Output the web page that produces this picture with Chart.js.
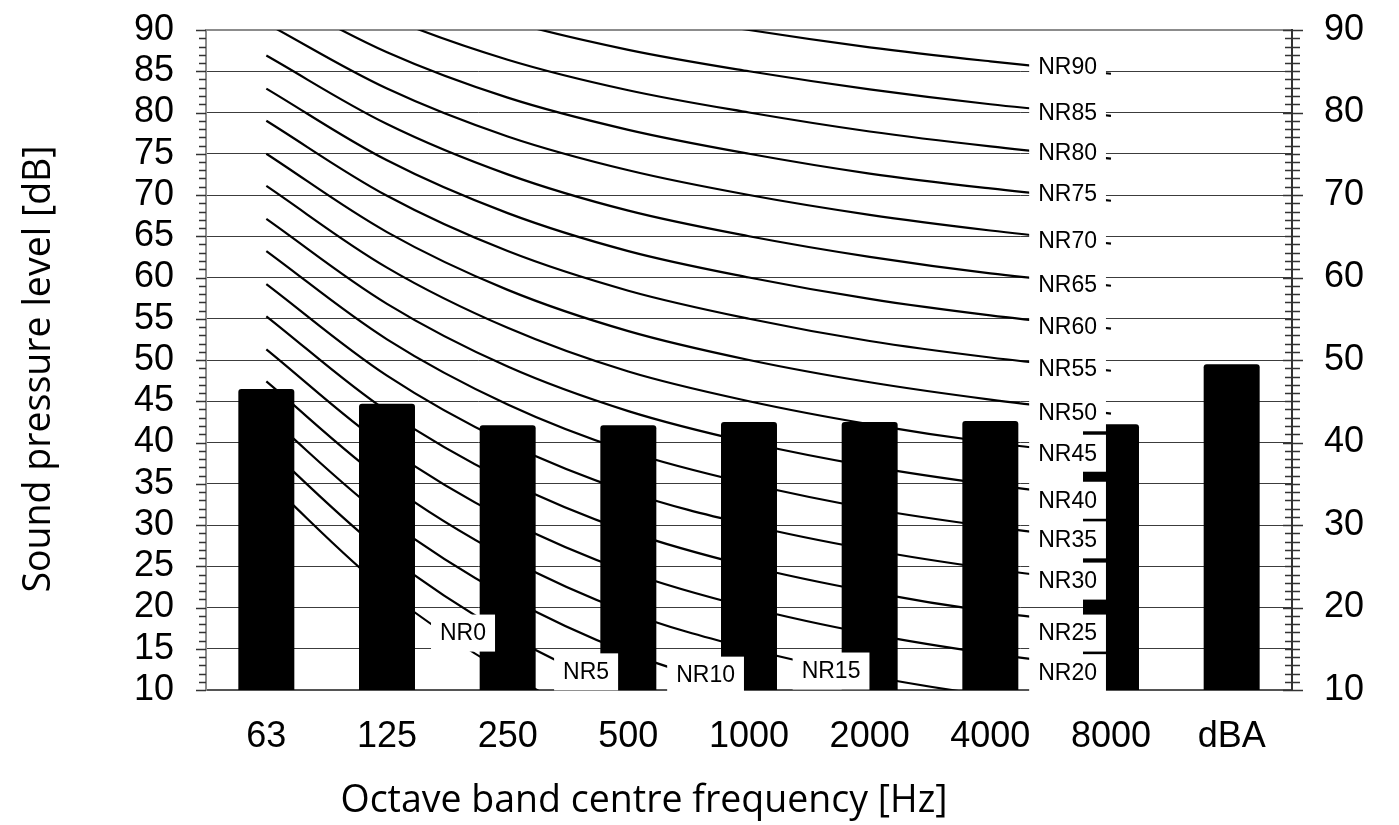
<!DOCTYPE html>
<html>
<head>
<meta charset="utf-8">
<title>Noise rating curves</title>
<script src="https://cdn.jsdelivr.net/npm/chart.js@4.4.1/dist/chart.umd.min.js"></script>
<style>
  html, body { margin: 0; padding: 0; background: #fff; }
  #wrap { width: 1399px; height: 825px; }
</style>
</head>
<body>
<div id="wrap"><canvas id="nrChart" width="1399" height="825"></canvas></div>
<script>
// Octave bands plus the overall A-weighted level
const bandLabels = ['63', '125', '250', '500', '1000', '2000', '4000', '8000', 'dBA'];

// Measured sound pressure levels [dB]
const measuredLevels = [46.5, 44.7, 42.1, 42.1, 42.5, 42.5, 42.6, 42.2, 49.5];

// NR curves, values at 63 ... 8000 Hz
const nrLevels = [0, 5, 10, 15, 20, 25, 30, 35, 40, 45, 50, 55, 60, 65, 70, 75, 80, 85, 90];
const nrCurves = [
  [35.5, 22.0, 12.0, 4.8, 0, -3.5, -6.1, -8.0],     // NR0
  [39.5, 26.4, 16.7, 9.7, 5, 1.6, -1.0, -2.9],      // NR5
  [43.4, 30.7, 21.3, 14.5, 10, 6.7, 4.2, 2.3],      // NR10
  [47.4, 35.1, 26.0, 19.4, 15, 11.7, 9.3, 7.5],     // NR15
  [51.3, 39.4, 30.6, 24.3, 20, 16.8, 14.4, 12.6],   // NR20
  [55.3, 43.8, 35.3, 29.2, 25, 21.9, 19.5, 17.8],   // NR25
  [59.2, 48.1, 39.9, 34.0, 30, 27.0, 24.7, 22.9],   // NR30
  [63.2, 52.5, 44.6, 38.9, 35, 32.0, 29.8, 28.1],   // NR35
  [67.1, 56.8, 49.2, 43.8, 40, 37.1, 34.9, 33.2],   // NR40
  [71.1, 61.2, 53.9, 48.6, 45, 42.2, 40.0, 38.4],   // NR45
  [75.0, 65.5, 58.5, 53.5, 50, 47.3, 45.2, 43.5],   // NR50
  [79.0, 69.9, 63.2, 58.4, 55, 52.3, 50.3, 48.7],   // NR55
  [82.9, 74.2, 67.8, 63.2, 60, 57.4, 55.4, 53.8],   // NR60
  [86.9, 78.6, 72.5, 68.1, 65, 62.5, 60.5, 59.0],   // NR65
  [90.8, 82.9, 77.1, 73.0, 70, 67.6, 65.7, 64.1],   // NR70
  [94.8, 87.3, 81.8, 77.9, 75, 72.6, 70.8, 69.3],   // NR75
  [98.7, 91.6, 86.4, 82.7, 80, 77.7, 75.9, 74.4],   // NR80
  [102.7, 96.0, 91.1, 87.6, 85, 82.8, 81.0, 79.6],  // NR85
  [106.6, 100.3, 95.7, 92.5, 90, 87.9, 86.2, 84.7]  // NR90
];

// Tick labels
const leftTicks = [10, 15, 20, 25, 30, 35, 40, 45, 50, 55, 60, 65, 70, 75, 80, 85, 90];
const rightTicks = [10, 20, 30, 40, 50, 60, 70, 80, 90];

// Where each NR label box sits: [category position, dB]
const nrLabelSpots = [
  [1.63, 16.9], [2.65, 12.2], [3.64, 11.8], [4.68, 12.3],
  [6.64, 12.1], [6.64, 16.9], [6.64, 23.2], [6.64, 28.2], [6.64, 33.0],
  [6.64, 38.7], [6.64, 43.6], [6.64, 49.0], [6.64, 54.1], [6.64, 59.1],
  [6.64, 64.5], [6.64, 70.2], [6.64, 75.1], [6.64, 80.0], [6.64, 85.6]
];

const tickFont = { family: '"Liberation Sans", Arial, sans-serif', size: 36 };
const titleFont = '37.5px "Open Sans", sans-serif';

// NR labels on top of the bars, minor ticks and axis titles
const nrExtras = {
  id: 'nrExtras',
  afterDatasetsDraw(chart) {
    const ctx = chart.ctx;
    const xs = chart.scales.x, ys = chart.scales.y;
    ctx.save();
    ctx.font = '23px "Liberation Sans", Arial, sans-serif';
    ctx.textAlign = 'center';
    ctx.textBaseline = 'middle';
    nrLevels.forEach((nr, i) => {
      const txt = 'NR' + nr;
      const px = xs.getPixelForValue(nrLabelSpots[i][0]);
      const py = ys.getPixelForValue(nrLabelSpots[i][1]);
      const w = ctx.measureText(txt).width + 18;
      ctx.fillStyle = '#fff';
      ctx.fillRect(px - w / 2, py - 18.5, w, 37);
      ctx.fillStyle = '#000';
      ctx.fillText(txt, px, py + 1);
    });
    ctx.restore();
  },
  afterDraw(chart) {
    const ctx = chart.ctx;
    const ys = chart.scales.y;
    const ca = chart.chartArea;
    ctx.save();
    ctx.strokeStyle = '#333';
    ctx.lineWidth = 1.5;
    ctx.beginPath();
    for (let v = 10; v <= 90; v++) {
      const py = Math.round(ys.getPixelForValue(v)) + 0.5;
      ctx.moveTo(ca.left - (v % 5 === 0 ? 10 : 7), py);
      ctx.lineTo(ca.left, py);
      ctx.moveTo(ca.right - (v % 10 === 0 ? 9 : 7), py);
      ctx.lineTo(ca.right + (v % 10 === 0 ? 11 : 8), py);
    }
    ctx.stroke();

    ctx.fillStyle = '#000';
    ctx.font = titleFont;
    ctx.textAlign = 'center';
    ctx.textBaseline = 'alphabetic';
    ctx.fillText('Octave band centre frequency [Hz]', 644, 812);
    ctx.translate(50, 369);
    ctx.rotate(-Math.PI / 2);
    ctx.fillText('Sound pressure level [dB]', 0, 0);
    ctx.restore();
  }
};

const lineSets = nrCurves.map((vals, i) => ({
  type: 'line',
  label: 'NR' + nrLevels[i],
  data: vals,
  borderColor: '#000',
  borderWidth: 2.2,
  pointRadius: 0,
  tension: 0.35,
  fill: false,
  yAxisID: 'y',
  order: 2
}));

// fixed axis sizes so the plot area lands where the original has it
function fixWidth(w) {
  return s => { s.width = w; s.paddingTop = 0; s.paddingBottom = 0; };
}

const ctx = document.getElementById('nrChart').getContext('2d');
const nrChart = new Chart(ctx, {
  type: 'bar',
  data: {
    labels: bandLabels,
    datasets: [{
      label: 'Measured',
      data: measuredLevels,
      backgroundColor: '#000',
      borderWidth: 0,
      borderRadius: { topLeft: 3, topRight: 3 },
      borderSkipped: 'bottom',
      categoryPercentage: 1,
      barPercentage: 0.464,
      yAxisID: 'y',
      order: 1
    }, ...lineSets]
  },
  options: {
    responsive: false,
    devicePixelRatio: 1,
    animation: false,
    events: [],
    layout: { padding: { top: 30, left: 0, right: 0, bottom: 0 } },
    plugins: {
      legend: { display: false },
      tooltip: { enabled: false }
    },
    scales: {
      x: {
        afterFit(s) { s.height = 135; s.paddingLeft = 0; s.paddingRight = 0; },
        grid: { display: false, drawTicks: false },
        border: { display: true, color: '#555', width: 2 },
        ticks: { color: '#000', font: tickFont, padding: 25, autoSkip: false, maxRotation: 0 }
      },
      y: {
        min: 10,
        max: 90,
        afterFit: fixWidth(206),
        afterBuildTicks(s) { s.ticks = leftTicks.map(v => ({ value: v })); },
        grid: {
          color: c => (c.tick && c.tick.value === 90 ? '#8c8c8c' : '#3c3c3c'),
          lineWidth: c => (c.tick && c.tick.value === 90 ? 2 : 1),
          drawTicks: false
        },
        border: { color: '#8c8c8c', width: 2 },
        ticks: { color: '#000', font: tickFont, padding: 32, autoSkip: false }
      },
      y2: {
        position: 'right',
        min: 10,
        max: 90,
        afterFit: fixWidth(107),
        afterBuildTicks(s) { s.ticks = rightTicks.map(v => ({ value: v })); },
        grid: { drawOnChartArea: false, drawTicks: false },
        border: { color: '#333', width: 2 },
        ticks: { color: '#000', font: tickFont, padding: 32, autoSkip: false }
      }
    }
  },
  plugins: [nrExtras]
});
</script>
</body>
</html>
